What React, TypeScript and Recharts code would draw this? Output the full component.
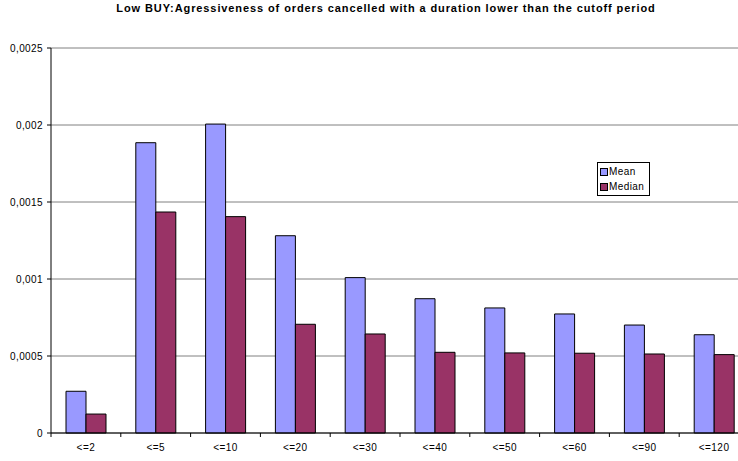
import React from "react";
import { BarChart, Bar, XAxis, YAxis, CartesianGrid, Legend } from "recharts";

const categories = ["<=2", "<=5", "<=10", "<=20", "<=30", "<=40", "<=50", "<=60", "<=90", "<=120"];
const meanValues = [0.000271, 0.001885, 0.002006, 0.001281, 0.001009, 0.000872, 0.000812, 0.000773, 0.000701, 0.000638];
const medianValues = [0.000123, 0.001435, 0.001405, 0.000706, 0.000643, 0.000524, 0.00052, 0.000518, 0.000513, 0.000509];
const yTicks = [0, 0.0005, 0.001, 0.0015, 0.002, 0.0025];
const titleText = "Low BUY:Agressiveness of orders cancelled with a duration lower than the cutoff period";

const data = categories.map((c, i) => ({ name: c, Mean: meanValues[i], Median: medianValues[i] }));

const FONT = "'Liberation Sans', Arial, sans-serif";
const MEAN_COLOR = "#9999FF";
const MEDIAN_COLOR = "#993366";

const fmt = (v: number) => String(v).replace(".", ",");

const CategoryTick = (props: any) => {
  const { x, y, payload, index } = props;
  const half = 34.9;
  return (
    <g>
      {index === 0 && <line x1={x - half} x2={x - half} y1={y} y2={y + 4} stroke="#000" />}
      <line x1={x + half} x2={x + half} y1={y} y2={y + 4} stroke="#000" />
      <text
        x={x}
        y={y + 18}
        textAnchor="middle"
        fontSize={10}
        letterSpacing={0.45}
        fontFamily={FONT}
        fill="#000"
      >
        {payload.value}
      </text>
    </g>
  );
};

const LegendBox = () => (
  <div
    style={{
      border: "1px solid #000",
      background: "#fff",
      fontFamily: FONT,
      fontSize: 10,
      letterSpacing: 0.4,
      padding: "1px 2px",
      lineHeight: "15px",
      width: 47,
      whiteSpace: "nowrap",
    }}
  >
    {[
      { label: "Mean", color: MEAN_COLOR },
      { label: "Median", color: MEDIAN_COLOR },
    ].map((it) => (
      <div key={it.label} style={{ display: "flex", alignItems: "center" }}>
        <span
          style={{
            display: "inline-block",
            width: 6,
            height: 6,
            background: it.color,
            border: "1px solid #000",
            marginRight: 1,
          }}
        />
        <span>{it.label}</span>
      </div>
    ))}
  </div>
);

export default function App() {
  return (
    <div
      style={{
        position: "fixed",
        left: 0,
        top: 0,
        width: 738,
        height: 461,
        overflow: "hidden",
        background: "#fff",
      }}
    >
      <div
        style={{
          position: "absolute",
          left: 0,
          top: 2,
          width: 772,
          textAlign: "center",
          fontFamily: FONT,
          fontWeight: "bold",
          fontSize: 11,
          letterSpacing: 0.9,
          color: "#000",
          whiteSpace: "nowrap",
        }}
      >
        {titleText}
      </div>
      <BarChart
        width={749}
        height={461}
        data={data}
        margin={{ top: 48, right: 0, bottom: 0, left: 0 }}
        barGap={0}
        barSize={20}
      >
        <CartesianGrid vertical={false} stroke="#808080" strokeWidth={1} />
        <XAxis
          dataKey="name"
          height={28}
          axisLine={{ stroke: "#000" }}
          tickLine={false}
          tickSize={0}
          tickMargin={0}
          interval={0}
          tick={<CategoryTick />}
        />
        <YAxis
          width={51}
          domain={[0, 0.0025]}
          ticks={yTicks}
          tickFormatter={fmt}
          axisLine={{ stroke: "#000" }}
          tickLine={{ stroke: "#000" }}
          tickSize={4}
          tickMargin={4}
          tick={{ fontSize: 10, fontFamily: FONT, fill: "#000", letterSpacing: 0.4 }}
        />
        <Legend
          layout="vertical"
          align="center"
          verticalAlign="middle"
          content={<LegendBox />}
          wrapperStyle={{ left: 597, top: 162, width: 53 }}
        />
        <Bar dataKey="Mean" fill={MEAN_COLOR} stroke="#000" strokeWidth={1} isAnimationActive={false} />
        <Bar dataKey="Median" fill={MEDIAN_COLOR} stroke="#000" strokeWidth={1} isAnimationActive={false} />
      </BarChart>
    </div>
  );
}
